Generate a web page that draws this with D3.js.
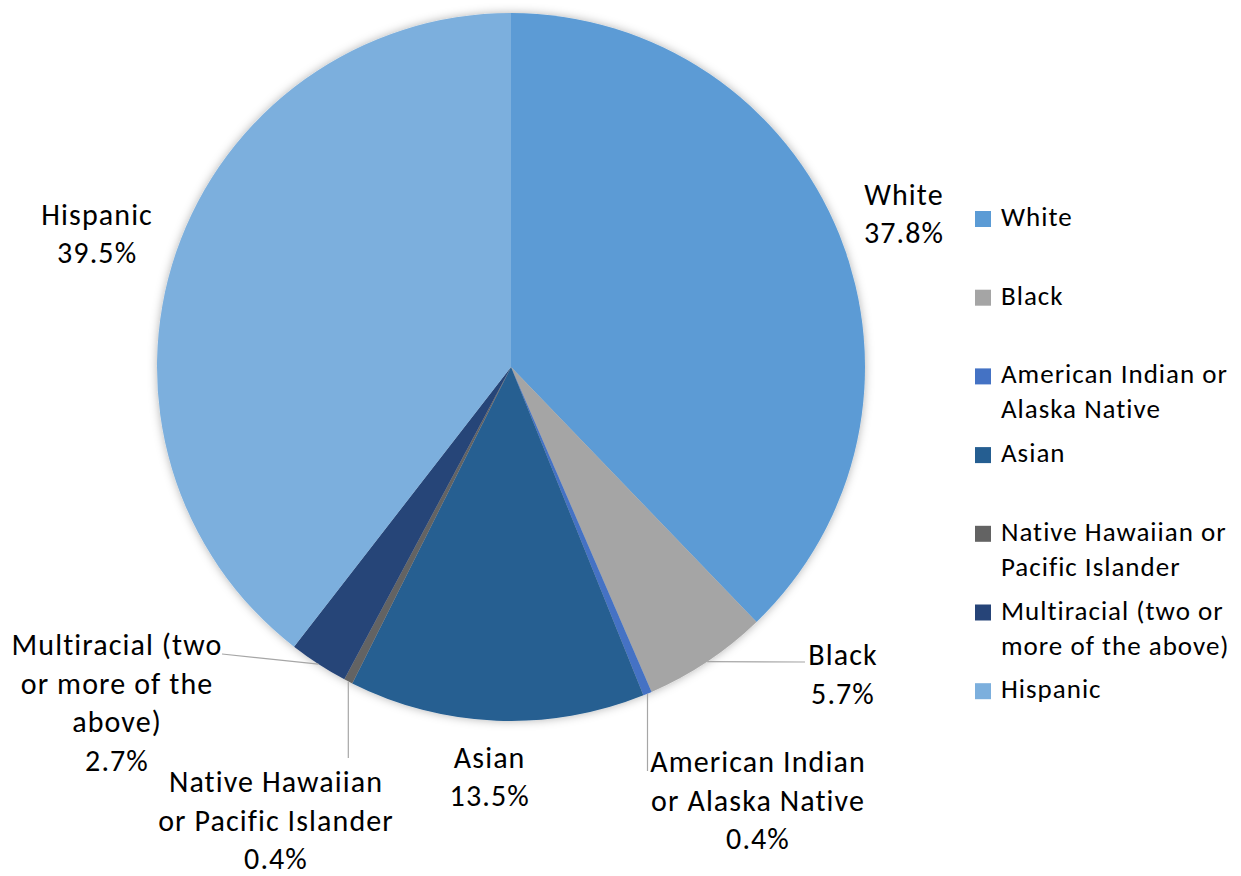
<!DOCTYPE html>
<html>
<head>
<meta charset="utf-8">
<script src="https://cdn.jsdelivr.net/npm/d3@7"></script>
<style>
  html, body { margin: 0; padding: 0; background: #fff; }
  svg { display: block; }
  text { font-family: Carlito, Calibri, Lato, "Open Sans", sans-serif; fill: #000; }
</style>
</head>
<body>
<svg id="chart" width="1241" height="876"></svg>
<script>
// ---- Data ----
const categories = ["White", "Black", "American Indian or Alaska Native", "Asian",
  "Native Hawaiian or Pacific Islander", "Multiracial (two or more of the above)", "Hispanic"];
const values = [37.8, 5.7, 0.4, 13.5, 0.4, 2.7, 39.5];
const valueLabels = ["37.8%", "5.7%", "0.4%", "13.5%", "0.4%", "2.7%", "39.5%"];
const colors = ["#5B9BD5", "#A5A5A5", "#4472C4", "#255E91", "#636363", "#264478", "#7CAFDD"];
// wrapped text for data labels and legend
const labelLines = [
  ["White"], ["Black"], ["American Indian", "or Alaska Native"], ["Asian"],
  ["Native Hawaiian", "or Pacific Islander"], ["Multiracial (two", "or more of the", "above)"], ["Hispanic"]
];
const legendLines = [
  ["White"], ["Black"], ["American Indian or", "Alaska Native"], ["Asian"],
  ["Native Hawaiian or", "Pacific Islander"], ["Multiracial (two or", "more of the above)"], ["Hispanic"]
];

// ---- Layout ----
const W = 1241, H = 876;
const cx = 511, cy = 367, R = 354;
const labelFont = 30, legendFont = 27, lineGap = 38.5;

const svg = d3.select("#chart");
const defs = svg.append("defs");
const f = defs.append("filter").attr("id", "shadow")
  .attr("x", "-10%").attr("y", "-10%").attr("width", "120%").attr("height", "120%");
f.append("feDropShadow").attr("dx", 0).attr("dy", 0).attr("stdDeviation", 5)
  .attr("flood-color", "#000").attr("flood-opacity", 0.3);

const data = categories.map((c, i) => ({ cat: c, value: values[i], idx: i }));
const pie = d3.pie().value(d => d.value).sort(null);
const arcs = pie(data);
const arc = d3.arc().innerRadius(0).outerRadius(R);

const g = svg.append("g").attr("transform", `translate(${cx},${cy})`);
g.append("g").attr("filter", "url(#shadow)")
  .selectAll("path").data(arcs).join("path")
  .attr("d", arc)
  .attr("fill", d => colors[d.data.idx]);

function midPoint(d, r) {
  const a = (d.startAngle + d.endAngle) / 2;
  return [r * Math.sin(a), -r * Math.cos(a)];
}

// label placement: outside labels along mid-angle (with small nudges);
// others have explicit offsets with leader lines
// offsets are relative to chart centre: [x of text centre, baseline of first line]
const nudges = { 0: [-1, 6], 3: [-4, -14], 6: [-12, 5] };
const leaderLayout = {
  1: { text: [332, 298], end: [294, 295], type: "h" },
  2: { text: [247, 405], endY: 404, type: "v" },
  4: { text: [-235, 425], endY: 391, type: "v" },
  5: { text: [-394, 288], end: [-289, 287], type: "s" }
};

const lbl = svg.append("g").attr("transform", `translate(${cx},${cy})`);
arcs.forEach(d => {
  const i = d.data.idx;
  const lines = labelLines[i].concat([valueLabels[i]]);
  let x, y0;
  if (leaderLayout[i]) {
    const L = leaderLayout[i];
    x = L.text[0]; y0 = L.text[1];
    const p = midPoint(d, R);
    let pts;
    if (L.type === "v") pts = [p, [p[0], L.endY]];
    else pts = [p, L.end];
    lbl.append("path")
      .attr("d", d3.line()(pts))
      .attr("fill", "none").attr("stroke", "#A6A6A6").attr("stroke-width", 1.2);
  } else {
    const p = midPoint(d, R * 1.2);
    const n = nudges[i] || [0, 0];
    x = p[0] + n[0];
    const blockH = (lines.length - 1) * lineGap;
    y0 = p[1] - blockH / 2 + 9.6 + n[1];
  }
  const t = lbl.append("text").attr("text-anchor", "middle")
    .style("font-size", labelFont + "px").style("letter-spacing", "1.1px");
  lines.forEach((s, k) => {
    t.append("tspan").attr("x", x).attr("y", y0 + k * lineGap).text(s);
  });
});

// ---- Legend ----
const legX = 975, legY0 = 226, legStep = 78.7, legLine = 35;
const leg = svg.append("g");
categories.forEach((c, i) => {
  const by = legY0 + i * legStep;
  leg.append("rect").attr("x", legX).attr("y", by - 15).attr("width", 16).attr("height", 16)
    .attr("fill", colors[i]);
  const t = leg.append("text").style("font-size", legendFont + "px").style("letter-spacing", "1px");
  legendLines[i].forEach((s, k) => {
    t.append("tspan").attr("x", legX + 26).attr("y", by + k * legLine).text(s);
  });
});
</script>
</body>
</html>
